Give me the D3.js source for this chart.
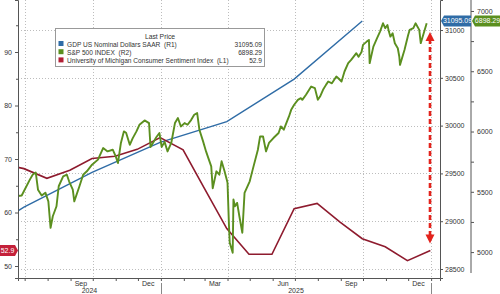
<!DOCTYPE html>
<html>
<head>
<meta charset="utf-8">
<script src="https://cdn.jsdelivr.net/npm/d3@7"></script>
<style>
  body { margin: 0; background: #fff; }
  svg { display: block; font-family: "Liberation Sans", Arial, sans-serif; }
  .tick text { fill: #333; }
</style>
</head>
<body>
<div id="chart"></div>
<script>
// GDP US nominal, SAAR, quarter-end dates (right axis 1)
var gdp = [
  ["2024-03-31", 28708], ["2024-06-30", 29147], ["2024-09-30", 29511],
  ["2024-12-31", 29825], ["2025-03-31", 30042], ["2025-06-30", 30486],
  ["2025-09-30", 31095.09]
];

// UMich consumer sentiment, month-end (left axis)
var umich = [
  ["2024-05-31", 69.1], ["2024-06-30", 68.2], ["2024-07-31", 66.4], ["2024-08-31", 67.9],
  ["2024-09-30", 70.1], ["2024-10-31", 70.5], ["2024-11-30", 71.8], ["2024-12-31", 74.0],
  ["2025-01-31", 71.7], ["2025-02-28", 64.7], ["2025-03-31", 57.0], ["2025-04-30", 52.2],
  ["2025-05-31", 52.2], ["2025-06-30", 60.7], ["2025-07-31", 61.7], ["2025-08-31", 58.2],
  ["2025-09-30", 55.1], ["2025-10-31", 53.6], ["2025-11-30", 51.0], ["2025-12-31", 52.9]
];

// S&P 500 (right axis 2)
var spx = [
  ["2024-06-21",5465],["2024-06-27",5469],["2024-07-08",5601],["2024-07-12",5643],["2024-07-16",5660],
  ["2024-07-19",5518],["2024-07-24",5469],["2024-07-29",5493],["2024-08-02",5421],["2024-08-05",5201],
  ["2024-08-08",5297],["2024-08-13",5380],["2024-08-16",5546],["2024-08-22",5628],["2024-08-27",5642],
  ["2024-08-30",5587],["2024-09-04",5518],["2024-09-06",5421],["2024-09-13",5546],["2024-09-18",5642],
  ["2024-09-23",5670],["2024-09-30",5725],["2024-10-08",5767],["2024-10-15",5863],["2024-10-21",5835],
  ["2024-10-28",5849],["2024-11-01",5794],["2024-11-04",5739],["2024-11-08",5905],["2024-11-12",6001],
  ["2024-11-15",5990],["2024-11-20",5890],["2024-11-24",5945],["2024-11-29",6001],["2024-12-03",6056],
  ["2024-12-10",6092],["2024-12-16",6070],["2024-12-18",5872],["2024-12-26",5955],["2024-12-30",5988],
  ["2025-01-02",5872],["2025-01-06",5914],["2025-01-10",5835],["2025-01-15",5905],["2025-01-20",6070],
  ["2025-01-24",6112],["2025-01-28",6042],["2025-02-02",6070],["2025-02-06",6056],["2025-02-11",6097],
  ["2025-02-15",6139],["2025-02-19",6153],["2025-02-22",6015],["2025-02-27",5918],["2025-03-03",5835],
  ["2025-03-06",5781],["2025-03-10",5711],["2025-03-12",5530],["2025-03-17",5670],["2025-03-21",5642],
  ["2025-03-24",5753],["2025-03-28",5670],["2025-03-31",5600],["2025-04-01",5574],["2025-04-03",5215],
  ["2025-04-04",5077],["2025-04-08",4994],["2025-04-09",5436],["2025-04-11",5380],["2025-04-14",5408],
  ["2025-04-17",5297],["2025-04-21",5160],["2025-04-24",5491],["2025-05-01",5587],["2025-05-05",5684],
  ["2025-05-12",5849],["2025-05-15",5959],["2025-05-19",5959],["2025-05-23",5835],["2025-05-27",5905],
  ["2025-06-02",5946],["2025-06-09",5988],["2025-06-12",6042],["2025-06-16",6015],["2025-06-23",6125],
  ["2025-06-26",6180],["2025-06-30",6222],["2025-07-05",6263],["2025-07-09",6277],["2025-07-11",6263],
  ["2025-07-16",6305],["2025-07-23",6373],["2025-07-28",6360],["2025-08-01",6263],["2025-08-04",6290],
  ["2025-08-08",6346],["2025-08-12",6387],["2025-08-15",6415],["2025-08-20",6400],["2025-08-26",6456],
  ["2025-08-29",6440],["2025-09-02",6415],["2025-09-06",6498],["2025-09-11",6567],["2025-09-15",6594],
  ["2025-09-22",6650],["2025-09-25",6620],["2025-09-29",6660],["2025-10-01",6719],["2025-10-06",6746],
  ["2025-10-09",6760],["2025-10-10",6567],["2025-10-15",6704],["2025-10-20",6774],["2025-10-24",6829],
  ["2025-10-28",6898],["2025-10-31",6857],["2025-11-03",6884],["2025-11-05",6829],["2025-11-07",6787],
  ["2025-11-10",6815],["2025-11-13",6732],["2025-11-17",6691],["2025-11-19",6622],["2025-11-20",6553],
  ["2025-11-26",6677],["2025-12-01",6801],["2025-12-03",6843],["2025-12-08",6857],["2025-12-10",6884],
  ["2025-12-11",6898],["2025-12-16",6843],["2025-12-18",6733],["2025-12-22",6815],["2025-12-26",6898.29]
];

var leftTicks = [50, 60, 70, 80, 90];
var gdpTicks = [28500, 29000, 29500, 30000, 30500, 31000];
var spxTicks = [5000, 5500, 6000, 6500, 7000];
var monthLabels = [["2024-09-15","Sep"],["2024-12-15","Dec"],["2025-03-15","Mar"],["2025-06-15","Jun"],["2025-09-15","Sep"],["2025-12-15","Dec"]];
var yearLabels = [["2024-06-22","2025-01-01","2024"],["2025-01-01","2026-01-01","2025"]];
var legendRows = [
  ["GDP US Nominal Dollars SAAR  (R1)", "31095.09", "#2f6ca6"],
  ["S&P 500 INDEX  (R2)", "6898.29", "#5b8f1f"],
  ["University of Michigan Consumer Sentiment Index  (L1)", "52.9", "#b21f35"]
];

var parse = d3.utcParse("%Y-%m-%d");
var W = 500, H = 294;
var L = 18, R = 440, T = 0, B = 278;

var svg = d3.select("#chart").append("svg").attr("width", W).attr("height", H);

var x = d3.scaleUtc().domain([parse("2024-06-22"), parse("2026-01-13")]).range([L, R]);
var yL = d3.scaleLinear().domain([47.76, 99.72]).range([B, T]);
var yG = d3.scaleLinear().domain([28406, 31314]).range([B, T]);
var yS = d3.scaleLinear().domain([4785, 7091]).range([B, T]);

svg.append("clipPath").attr("id", "plot").append("rect")
  .attr("x", L).attr("y", T).attr("width", R - L).attr("height", B - T);

// dotted grid
var grid = svg.append("g").attr("stroke", "#bdbdbd").attr("stroke-dasharray", "1,2").attr("stroke-width", 1);
gdpTicks.forEach(function (v) {
  grid.append("line").attr("x1", L).attr("x2", R).attr("y1", Math.round(yG(v)) + 0.5).attr("y2", Math.round(yG(v)) + 0.5);
});
var quarters = d3.utcMonths(parse("2024-07-01"), parse("2026-01-02"), 3);
quarters.forEach(function (d) {
  grid.append("line").attr("x1", Math.round(x(d)) + 0.5).attr("x2", Math.round(x(d)) + 0.5).attr("y1", T).attr("y2", B);
});

// series
var g = svg.append("g").attr("clip-path", "url(#plot)");
g.append("path").datum(gdp)
  .attr("fill", "none").attr("stroke", "#2f6ca6").attr("stroke-width", 1.4)
  .attr("d", d3.line().x(function (d) { return x(parse(d[0])); }).y(function (d) { return yG(d[1]); }));
g.append("path").datum(umich)
  .attr("fill", "none").attr("stroke", "#8e1b2e").attr("stroke-width", 1.6)
  .attr("d", d3.line().x(function (d) { return x(parse(d[0])); }).y(function (d) { return yL(d[1]); }));
g.append("path").datum(spx)
  .attr("fill", "none").attr("stroke", "#5b8f1f").attr("stroke-width", 1.9).attr("stroke-linejoin", "round")
  .attr("d", d3.line().x(function (d) { return x(parse(d[0])); }).y(function (d) { return yS(d[1]); }));

// axes
var fs = 7;
var axisL = svg.append("g").attr("transform", "translate(" + L + ",0)")
  .call(d3.axisLeft(yL).tickValues(d3.range(50, 100, 5)).tickSize(3).tickFormat(function (d) { return leftTicks.indexOf(d) >= 0 ? d : ""; }));
var axisG = svg.append("g").attr("transform", "translate(" + R + ",0)")
  .call(d3.axisRight(yG).tickValues(gdpTicks).tickSize(3).tickPadding(2).tickFormat(d3.format("d")));
var axisS = svg.append("g").attr("transform", "translate(471,0)")
  .call(d3.axisRight(yS).tickValues(d3.range(5000, 7001, 250)).tickSize(3).tickPadding(3)
    .tickFormat(function (d) { return spxTicks.indexOf(d) >= 0 ? d : ""; }));
axisS.select(".domain").attr("d", "M0,0V273");
var axisX = svg.append("g").attr("transform", "translate(0," + B + ")")
  .call(d3.axisBottom(x).tickValues(d3.utcMonths(parse("2024-07-01"), parse("2026-01-02"))).tickSize(3).tickFormat(""));
[axisL, axisG, axisS, axisX].forEach(function (a) {
  a.selectAll(".domain").attr("stroke", "#555");
  a.selectAll(".tick line").attr("stroke", "#555");
  a.selectAll(".tick text").attr("font-size", fs).attr("font-family", "Liberation Sans, Arial, sans-serif");
});
axisL.selectAll(".tick").filter(function (d) { return leftTicks.indexOf(d) < 0; }).select("line").attr("x2", -2);

monthLabels.forEach(function (m) {
  svg.append("text").attr("x", x(parse(m[0]))).attr("y", 285.5).attr("text-anchor", "middle")
    .attr("font-size", fs).attr("fill", "#333").text(m[1]);
});
yearLabels.forEach(function (yv) {
  svg.append("text").attr("x", (x(parse(yv[0])) + x(parse(yv[1]))) / 2).attr("y", 293).attr("text-anchor", "middle")
    .attr("font-size", fs).attr("fill", "#333").text(yv[2]);
});
["2025-01-01", "2026-01-01"].forEach(function (d) {
  svg.append("line").attr("x1", Math.round(x(parse(d))) + 0.5).attr("x2", Math.round(x(parse(d))) + 0.5)
    .attr("y1", 283).attr("y2", 294).attr("stroke", "#888");
});

// red dashed arrow
var ax = 430, ay1 = yS(7000) + 21, ay2 = yL(52.9) - 7;
svg.append("line").attr("x1", ax).attr("x2", ax).attr("y1", ay1 + 7).attr("y2", ay2 - 7)
  .attr("stroke", "#e3231c").attr("stroke-width", 2.6).attr("stroke-dasharray", "5,3");
svg.append("path").attr("fill", "#e3231c")
  .attr("d", "M" + ax + "," + ay1 + "L" + (ax + 4.5) + "," + (ay1 + 9) + "L" + (ax - 4.5) + "," + (ay1 + 9) + "Z");
svg.append("path").attr("fill", "#e3231c")
  .attr("d", "M" + ax + "," + ay2 + "L" + (ax + 4.5) + "," + (ay2 - 9) + "L" + (ax - 4.5) + "," + (ay2 - 9) + "Z");

// last price tags
function tag(xl, xr, yc, tipLeft, col, txt) {
  var h = 5.5;
  var d = tipLeft
    ? "M" + xl + "," + yc + "L" + (xl + 3) + "," + (yc - h) + "H" + xr + "V" + (yc + h) + "H" + (xl + 3) + "Z"
    : "M" + xl + "," + (yc - h) + "H" + (xr - 3) + "L" + xr + "," + yc + "L" + (xr - 3) + "," + (yc + h) + "H" + xl + "Z";
  svg.append("path").attr("d", d).attr("fill", col);
  svg.append("text").attr("x", tipLeft ? (xl + xr) / 2 + 1.5 : (xl + xr) / 2 - 1.5).attr("y", yc + 2.5)
    .attr("text-anchor", "middle").attr("font-size", 7).attr("fill", "#fff").text(txt);
}
tag(0, 18, yL(52.9), false, "#c4213a", "52.9");
tag(441, 471, yG(31095.09), true, "#2f6ca6", "31095.09");
tag(472, 500, yG(31095.09), true, "#5b8f1f", "6898.29");

// legend
var lg = svg.append("g");
lg.append("rect").attr("x", 55.5).attr("y", 28.5).attr("width", 209).attr("height", 38)
  .attr("fill", "#fff").attr("stroke", "#999");
lg.append("text").attr("x", 160).attr("y", 38.5).attr("text-anchor", "middle").attr("font-size", 6.8).attr("fill", "#333").text("Last Price");
legendRows.forEach(function (r, i) {
  var yy = 46.5 + i * 8.2;
  lg.append("rect").attr("x", 58.5).attr("y", yy - 5.5).attr("width", 5).attr("height", 5).attr("fill", r[2]);
  lg.append("text").attr("x", 67).attr("y", yy).attr("font-size", 6.6).attr("fill", "#333").attr("xml:space", "preserve").text(r[0]);
  lg.append("text").attr("x", 262).attr("y", yy).attr("text-anchor", "end").attr("font-size", 6.6).attr("fill", "#333").text(r[1]);
});
</script>
</body>
</html>
